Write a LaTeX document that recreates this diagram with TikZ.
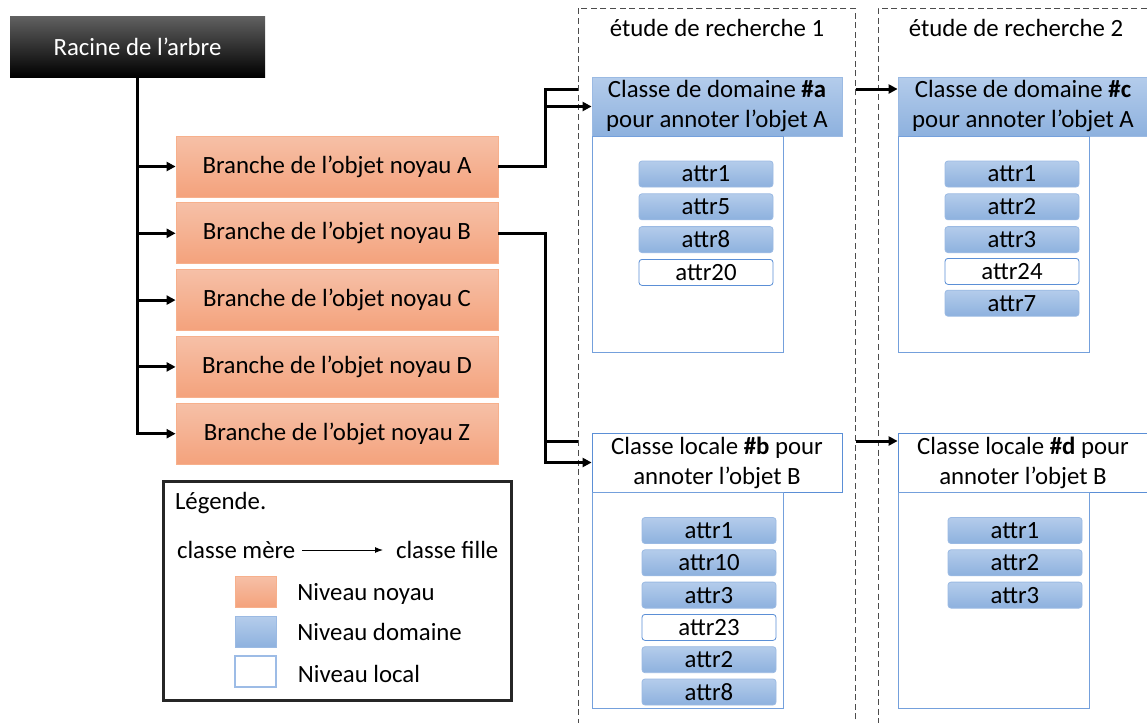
\documentclass[tikz,border=0pt]{standalone}
\usepackage{fontspec}
\setmainfont{Carlito}
\usetikzlibrary{arrows.meta, positioning, calc}

\definecolor{noyauTop}{HTML}{F6C0A7}
\definecolor{noyauBot}{HTML}{F4A27C}
\definecolor{noyauEdge}{HTML}{F7B08C}
\definecolor{domTop}{HTML}{B4CCEB}
\definecolor{domBot}{HTML}{8DB1DE}
\definecolor{domEdge}{HTML}{9BBAE3}
\definecolor{locEdge}{HTML}{5B8FD6}

\begin{document}
\begin{tikzpicture}[
        x=0.5pt, y=-0.5pt,
        font=\fontsize{12.4}{15}\selectfont,
        racinebox/.style={
            minimum width=127.5pt,
            minimum height=30.5pt,
            inner sep=0pt,
            top color=black!62, middle color=black, bottom color=black,
            text=white
        },
        noyau/.style={
            draw=noyauEdge,
            top color=noyauTop, bottom color=noyauBot,
            minimum width=161pt,
            minimum height=30.5pt,
            inner sep=0pt
        },
        domaine/.style={
            draw=domEdge,
            top color=domTop, bottom color=domBot,
            align=center,
            minimum width=125pt,
            minimum height=29.5pt,
            inner sep=0pt
        },
        locale/.style={domaine, draw=locEdge, top color=white, bottom color=white},
        corps/.style={
            draw=locEdge!85,
            fill=white,
            anchor=north west,
            minimum width=95.5pt,
            minimum height=108pt
        },
        attr/.style={
            rounded corners=1.5pt,
            minimum width=67pt,
            minimum height=13pt,
            inner sep=0pt
        },
        attrdom/.style={attr, draw=domEdge, top color=domTop, bottom color=domBot},
        attrloc/.style={attr, draw=locEdge, fill=white},
        etude/.style={
            draw=black!70,
            dashed, dash pattern=on 3pt off 1.8pt,
            line width=0.5pt,
            minimum width=138.5pt,
            minimum height=366pt
        },
        legende/.style={
            draw=black!85,
            line width=1.5pt,
            minimum width=174pt,
            minimum height=109.5pt
        },
        swatch/.style={minimum width=20.5pt, minimum height=15.5pt, inner sep=0pt},
        link/.style={line width=1.5pt},
        arrow/.style={
            -{Triangle[length=4.5pt, width=4.5pt]},
            line width=1.5pt
        }
    ]

    \useasboundingbox (0,0) rectangle (1147,723);

    \node[racinebox] (racine) at (137.5,46.5) {Racine de l’arbre};

    \node[noyau] (brA) at (337,166.5) {Branche de l’objet noyau A};
    \node[noyau, below=2.5pt of brA] (brB) {Branche de l’objet noyau B};
    \node[noyau, below=2.5pt of brB] (brC) {Branche de l’objet noyau C};
    \node[noyau, below=2.5pt of brC] (brD) {Branche de l’objet noyau D};
    \node[noyau, below=2.5pt of brD] (brZ) {Branche de l’objet noyau Z};

    \foreach \b in {A,B,C,D,Z}
        \draw[arrow] (racine.south) |- (br\b.west);

    \node[etude] (etude1) at (716.5,374) {};
    \node[etude, minimum width=141pt] (etude2) at (1019,374) {};
    \node (titre1) at (717,28) {étude de recherche 1};
    \node (titre2) at (1016,28) {étude de recherche 2};

    \node[domaine] (domA) at (717,106.5) {Classe de domaine \textbf{\#a}\\pour annoter l’objet A};
    \node[corps] (corpsA) at (domA.south west) {};
    \node[attrdom] (a1) at (706,174) {attr1};
    \node[attrdom, below=3pt of a1] (a5) {attr5};
    \node[attrdom, below=3pt of a5] (a8) {attr8};
    \node[attrloc, below=3pt of a8] (a20) {attr20};

    \node[domaine] (domC) at (1023,106.5) {Classe de domaine \textbf{\#c}\\pour annoter l’objet A};
    \node[corps] (corpsC) at (domC.south west) {};
    \node[attrdom] (c1) at (1012,174) {attr1};
    \node[attrdom, below=3pt of c1] (c2) {attr2};
    \node[attrdom, below=3pt of c2] (c3) {attr3};
    \node[attrloc, below=2.5pt of c3] (c24) {attr24};
    \node[attrdom, below=2.5pt of c24] (c7) {attr7};

    \node[locale] (locB) at (717,462.5) {Classe locale \textbf{\#b} pour\\annoter l’objet B};
    \node[corps] (corpsB) at (locB.south west) {};
    \node[attrdom] (b1) at (709,530.5) {attr1};
    \node[attrdom, below=2.75pt of b1] (b10) {attr10};
    \node[attrdom, below=2.75pt of b10] (b3) {attr3};
    \node[attrloc, below=2.75pt of b3] (b23) {attr23};
    \node[attrdom, below=2.75pt of b23] (b2) {attr2};
    \node[attrdom, below=2.75pt of b2] (b8) {attr8};

    \node[locale] (locD) at (1023,462.5) {Classe locale \textbf{\#d} pour\\annoter l’objet B};
    \node[corps] (corpsD) at (locD.south west) {};
    \node[attrdom] (d1) at (1015,530.5) {attr1};
    \node[attrdom, below=2.75pt of d1] (d2) {attr2};
    \node[attrdom, below=2.75pt of d2] (d3) {attr3};

    \coordinate (jA) at (545,89);
    \coordinate (jB) at (545,441);
    \draw[link] (brA.east) -| (jA) -- (etude1.west |- jA);
    \draw[arrow] (jA |- domA.west) -- (domA.west);
    \draw[link] (brB.east) -| (jB) -- (etude1.west |- jB);
    \draw[arrow] (jB) |- (locB.west);
    \draw[arrow] (etude1.east |- jA) -- (domC.west |- jA);
    \draw[arrow] (etude1.east |- jB) -- (locD.west |- jB);

    \node[legende] (leg) at (337,590.5) {};
    \node[anchor=west] (legTitre) at (168,503) {Légende.};
    \node[anchor=west] (mere) at (170,550) {classe mère};
    \node[anchor=west] (fille) at (389,550) {classe fille};
    \draw[-{Latex[length=4pt]}, line width=0.5pt, shorten >=3pt] (mere) -- (fille);

    \node[swatch, draw=noyauEdge, top color=noyauTop, bottom color=noyauBot] (swNoyau) at (255.5,591.5) {};
    \node[swatch, draw=domEdge, top color=domTop, bottom color=domBot, below=4.5pt of swNoyau] (swDomaine) {};
    \node[swatch, draw=locEdge!60, line width=0.8pt, fill=white, below=3.5pt of swDomaine] (swLocal) {};
    \node[right=7pt of swNoyau, yshift=-1pt] (lblNoyau) {Niveau noyau};
    \node[right=7pt of swDomaine] (lblDomaine) {Niveau domaine};
    \node[right=7pt of swLocal, yshift=-1pt] (lblLocal) {Niveau local};

\end{tikzpicture}
\end{document}
